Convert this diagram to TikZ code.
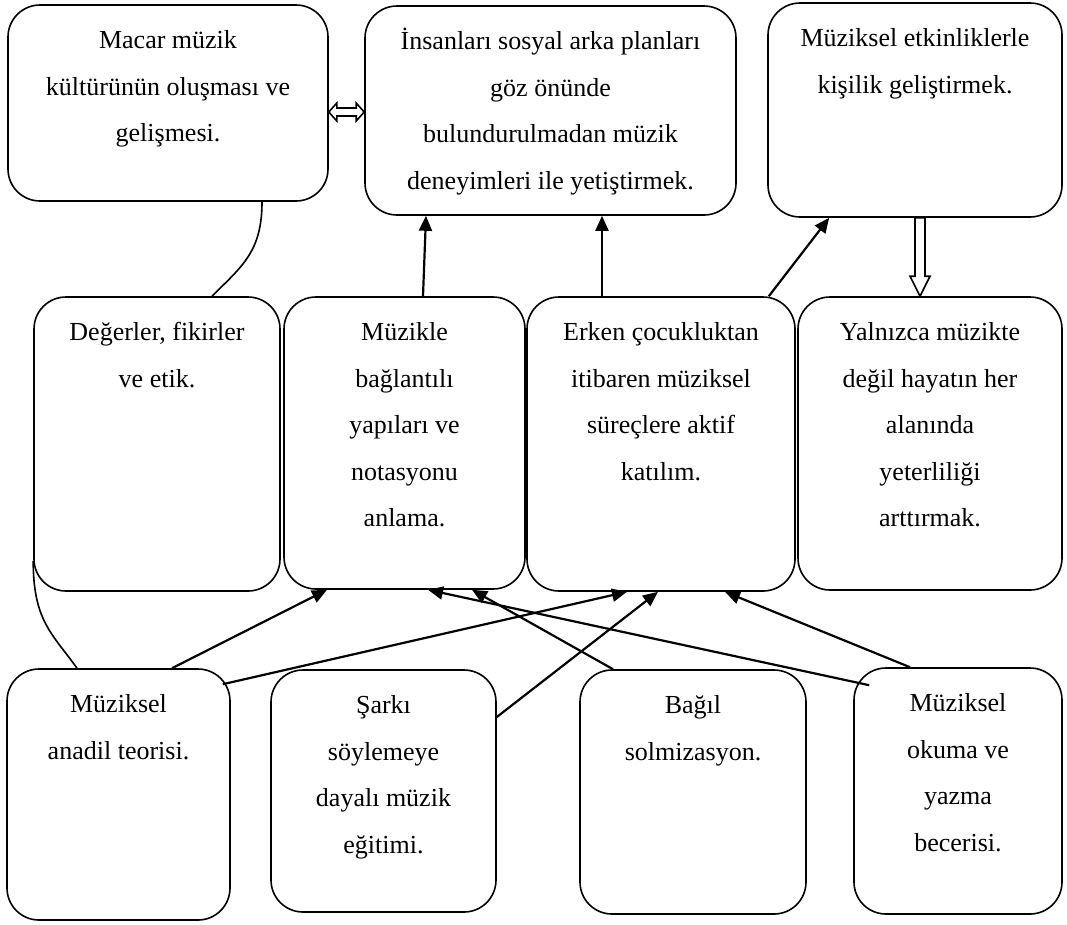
\documentclass[tikz,border=0pt]{standalone}
\usepackage{fontspec}
\setmainfont{Liberation Serif}
\usetikzlibrary{arrows.meta,calc}

\begin{document}
\begin{tikzpicture}[x=1pt,y=-1pt,
  box/.style={draw,line width=1.6pt,rounded corners=32pt,inner sep=0pt},
  txt/.style={anchor=north,inner sep=0pt,align=center,font=\fontsize{26}{46.5}\selectfont},
  arr/.style={line width=2.2pt,-{Triangle[length=15pt,width=13pt]}},
  curve/.style={line width=1.6pt},
  hollow/.style={line width=1.6pt,line join=miter}]
 \useasboundingbox (0,0) rectangle (1067,924);
 % top row
 \node[box,minimum width=320pt,minimum height=196pt] (macar) at (168,103) {};
 \node[box,minimum width=371pt,minimum height=209pt] (insan) at (550.5,110.5) {};
 \node[box,minimum width=294pt,minimum height=214pt] (kisilik) at (915,110) {};
 % middle row
 \node[box,minimum width=246pt,minimum height=294pt] (deger) at (157,444) {};
 \node[box,minimum width=241pt,minimum height=292pt] (yapi) at (404.5,443) {};
 \node[box,minimum width=268pt,minimum height=294pt] (erken) at (661,444) {};
 \node[box,minimum width=264pt,minimum height=293pt] (yeterlik) at (930,443.5) {};
 % bottom row
 \node[box,minimum width=223pt,minimum height=251pt] (anadil) at (118.5,794.5) {};
 \node[box,minimum width=225pt,minimum height=242pt] (sarki) at (383.5,791) {};
 \node[box,minimum width=226pt,minimum height=244pt] (bagil) at (693,792) {};
 \node[box,minimum width=208pt,minimum height=246pt] (okuma) at (958,791) {};

 \node[txt] (macar-t) at ([yshift=-12pt]macar.north) {\strut Macar müzik\\kültürünün oluşması ve\\gelişmesi.};
 \node[txt] (insan-t) at ([yshift=-12pt]insan.north) {\strut İnsanları sosyal arka planları\\göz önünde\\bulundurulmadan müzik\\deneyimleri ile yetiştirmek.};
 \node[txt] (kisilik-t) at ([yshift=-12pt]kisilik.north) {\strut Müziksel etkinliklerle\\kişilik geliştirmek.};
 \node[txt] (deger-t) at ([yshift=-12pt]deger.north) {\strut Değerler, fikirler\\ve etik.};
 \node[txt] (yapi-t) at ([yshift=-12pt]yapi.north) {\strut Müzikle\\bağlantılı\\yapıları ve\\notasyonu\\anlama.};
 \node[txt] (erken-t) at ([yshift=-12pt]erken.north) {\strut Erken çocukluktan\\itibaren müziksel\\süreçlere aktif\\katılım.};
 \node[txt] (yeterlik-t) at ([yshift=-12pt]yeterlik.north) {\strut Yalnızca müzikte\\değil hayatın her\\alanında\\yeterliliği\\arttırmak.};
 \node[txt] (anadil-t) at ([yshift=-12pt]anadil.north) {\strut Müziksel\\anadil teorisi.};
 \node[txt] (sarki-t) at ([yshift=-12pt]sarki.north) {\strut Şarkı\\söylemeye\\dayalı müzik\\eğitimi.};
 \node[txt] (bagil-t) at ([yshift=-12pt]bagil.north) {\strut Bağıl\\solmizasyon.};
 \node[txt] (okuma-t) at ([yshift=-12pt]okuma.north) {\strut Müziksel\\okuma ve\\yazma\\becerisi.};

 % curved links
 \draw[curve] ([xshift=94pt]macar.south) .. controls +(0,50) and +(30,-30) .. ([xshift=55pt]deger.north);
 \draw[curve] ([yshift=31pt]deger.south west) .. controls +(0,60) and +(-25,-35) .. ([xshift=-41.5pt]anadil.north);

 % arrows up to the top row
 \draw[arr] ([xshift=18.5pt]yapi.north) -- ([xshift=-124.5pt]insan.south);
 \draw[arr] ([xshift=-59pt]erken.north) -- ([xshift=51.5pt]insan.south);
 \draw[arr] ([xshift=-27pt]erken.north east) -- ([xshift=62pt]kisilik.south west);

 % arrows up to the middle row
 \draw[arr] ([xshift=53.5pt]anadil.north) -- ([xshift=-77.5pt]yapi.south);
 \draw[arr] ([xshift=-8pt,yshift=-16pt]anadil.north east) -- ([xshift=-34pt]erken.south);
 \draw[arr] ([yshift=74pt]sarki.east) -- ([xshift=-3pt]erken.south);
 \draw[arr] ([xshift=-80pt]bagil.north) -- ([xshift=67.5pt]yapi.south);
 \draw[arr] ([xshift=16pt,yshift=-18pt]okuma.north west) -- ([xshift=23.5pt]yapi.south);
 \draw[arr] ([xshift=-48pt]okuma.north) -- ([xshift=64pt]erken.south);

 % hollow arrows
 \coordinate (dl) at ([yshift=-9pt]macar.east);
 \coordinate (dr) at (insan.west |- dl);
 \draw[hollow] (dl) -- ++(8,-9) -- ++(0,5) -- ($(dr)+(-8,-4)$) -- ++(0,-5) -- (dr)
   -- ++(-8,9) -- ++(0,-5) -- ($(dl)+(8,4)$) -- ++(0,5) -- cycle;
 \coordinate (ct) at ([xshift=5pt]kisilik.south);
 \coordinate (cb) at (ct |- yeterlik.north);
 \draw[hollow] ($(ct)+(-5,0)$) -- ($(cb)+(-5,-20)$) -- ++(-5,0) -- (cb)
   -- ++(10,-20) -- ++(-5,0) -- ($(ct)+(5,0)$) -- cycle;
\end{tikzpicture}
\end{document}
